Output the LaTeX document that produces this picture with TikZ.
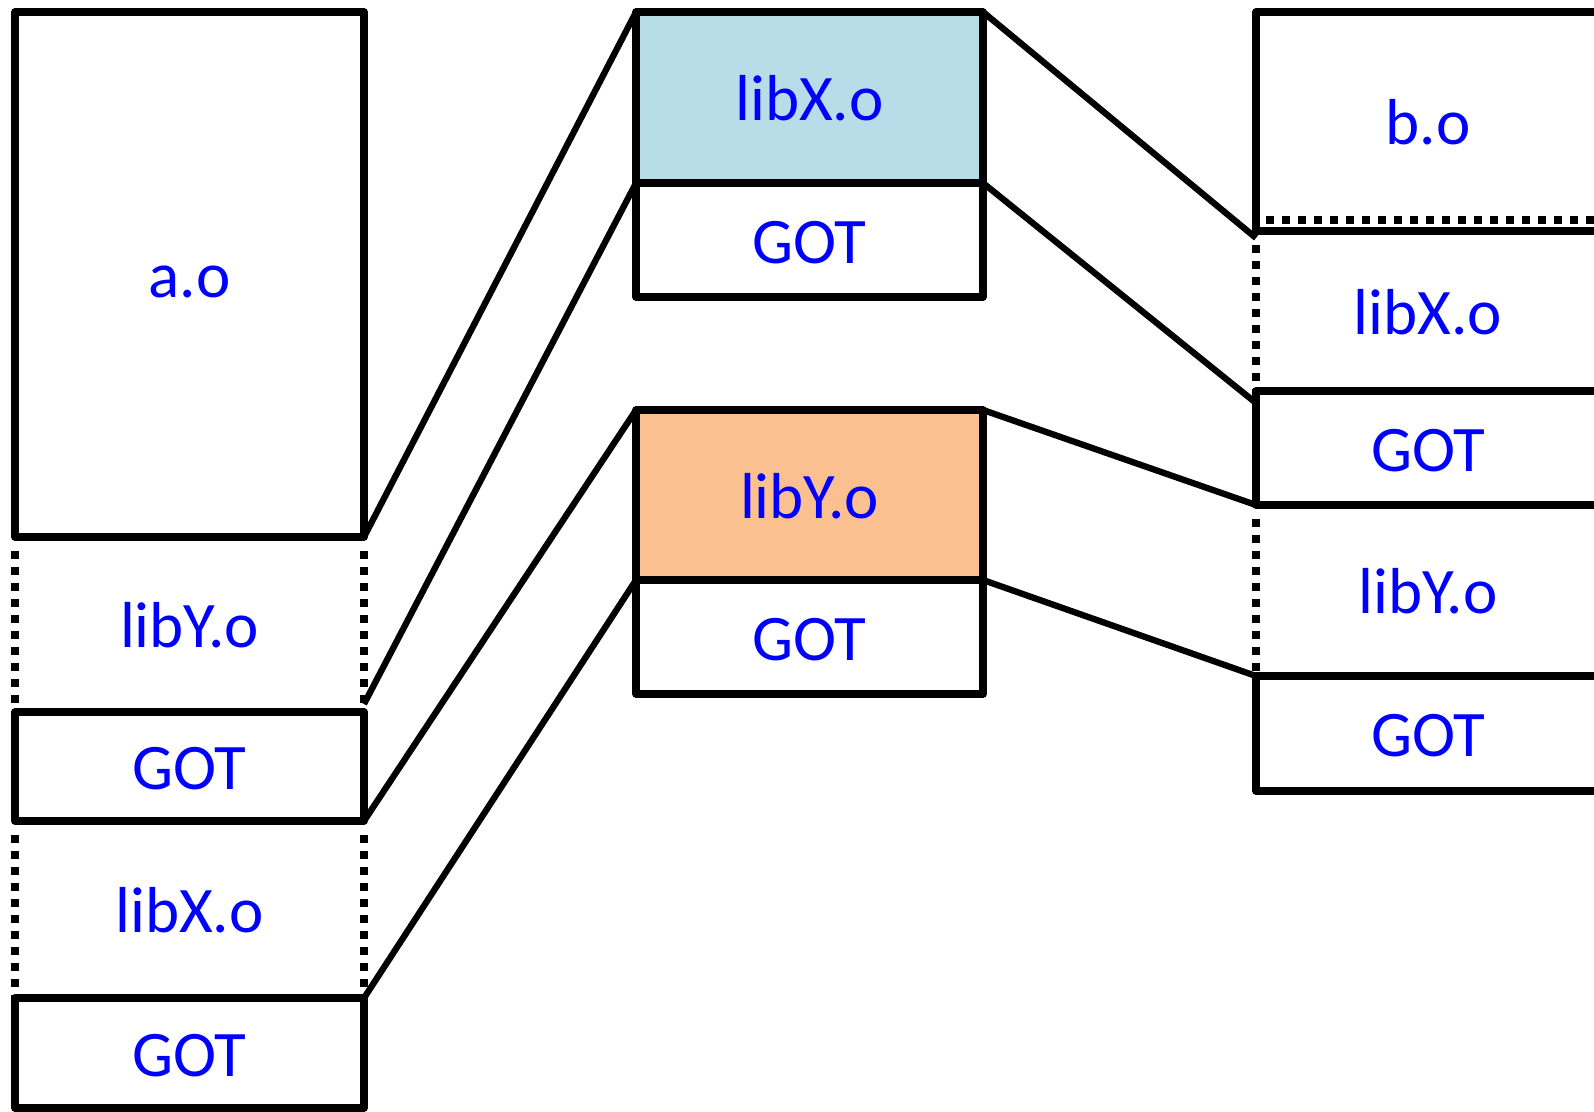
\documentclass[tikz,border=0pt]{standalone}
\usepackage{fontspec}
\setmainfont{Carlito}
\definecolor{libxfill}{HTML}{B7DEE8}
\definecolor{libyfill}{HTML}{FAC090}
\begin{document}
\begin{tikzpicture}[x=1pt,y=-1pt,
  seg/.style={inner sep=0pt, outer sep=0pt, anchor=north west, text=blue,
              font=\fontsize{65}{78}\selectfont, text height=46pt, text depth=0pt},
  solidbox/.style={seg, draw, line width=7.3pt, line join=round},
  dotline/.style={line width=7.5pt, dash pattern=on 7.5pt off 8.5pt},
  link/.style={line width=6.3pt}]
\clip (0,0) rectangle (1594,1111);

% left image: a.o linked with both libraries
\node[solidbox, minimum width=349pt, minimum height=525pt] (aO)  at (15,12)  {a.o};
\node[seg,      minimum width=349pt, minimum height=175pt] (lYa) at (15,537) {libY.o};
\node[solidbox, minimum width=349pt, minimum height=109pt] (gA1) at (15,712) {GOT};
\node[seg,      minimum width=349pt, minimum height=177pt] (lXa) at (15,821) {libX.o};
\node[solidbox, minimum width=349pt, minimum height=110pt] (gA2) at (15,998) {GOT};
\draw[dotline] ([yshift=-14pt]lYa.north west) -- (lYa.south west);
\draw[dotline] ([yshift=-14pt]lYa.north east) -- (lYa.south east);
\draw[dotline] ([yshift=-14pt]lXa.north west) -- (lXa.south west);
\draw[dotline] ([yshift=-14pt]lXa.north east) -- (lXa.south east);

% shared libraries
\node[solidbox, fill=libxfill, minimum width=347pt, minimum height=171pt] (mX)  at (636,12)  {libX.o};
\node[solidbox,                minimum width=347pt, minimum height=114pt] (mXg) at (636,183) {GOT};
\node[solidbox, fill=libyfill, minimum width=347pt, minimum height=170pt] (mY)  at (636,410) {libY.o};
\node[solidbox,                minimum width=347pt, minimum height=114pt] (mYg) at (636,580) {GOT};

% right image: b.o linked with both libraries
\node[solidbox, minimum width=344pt, minimum height=219pt] (bO)  at (1256,12)  {b.o};
\node[seg,      minimum width=344pt, minimum height=160pt] (lXb) at (1256,231) {libX.o};
\node[solidbox, minimum width=344pt, minimum height=114pt] (gB1) at (1256,391) {GOT};
\node[seg,      minimum width=344pt, minimum height=171pt] (lYb) at (1256,505) {libY.o};
\node[solidbox, minimum width=344pt, minimum height=115pt] (gB2) at (1256,676) {GOT};
\draw[dotline] ([xshift=10pt,yshift=11pt]bO.south west) -- ([yshift=11pt]bO.south east);
\draw[dotline] ([yshift=-14pt]lXb.north west) -- (lXb.south west);
\draw[dotline] ([yshift=-14pt]lYb.north west) -- (lYb.south west);

% mapping lines
\draw[link] (aO.south east) -- (mX.north west);
\draw[link] ([yshift=8pt]gA1.north east) -- (mX.south west);
\draw[link] (gA1.south east) -- (mY.north west);
\draw[link] (gA2.north east) -- (mY.south west);
\draw[link] (mX.north east) -- ([yshift=-7pt]bO.south west);
\draw[link] (mXg.north east) -- ([yshift=-12pt]gB1.north west);
\draw[link] (mY.north east) -- (gB1.south west);
\draw[link] (mYg.north east) -- (gB2.north west);
\end{tikzpicture}
\end{document}
